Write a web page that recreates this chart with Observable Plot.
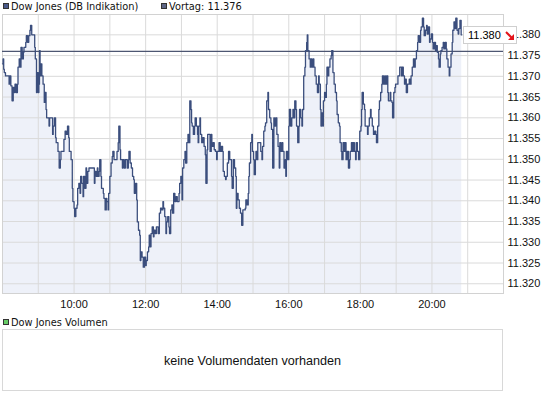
<!DOCTYPE html>
<html><head><meta charset="utf-8">
<script src="https://cdn.jsdelivr.net/npm/d3@7"></script>
<script src="https://cdn.jsdelivr.net/npm/@observablehq/plot@0.6"></script>
<style>
body{margin:0;background:#fff;}
#wrap{position:relative;width:545px;height:398px;overflow:hidden;background:#fff}
#wrap > svg{position:absolute;left:0;top:0}
#lbl{position:absolute;left:463px;width:52px;height:16px;border:1px solid #cfcfcf;background:#fff;font:11px 'Liberation Sans',Arial,sans-serif;color:#000;box-sizing:content-box}
#lbl span{position:absolute;left:4px;top:2px}
#lbl svg{position:absolute;left:41px;top:4px}
</style></head><body><div id="wrap"></div>
<script>
const times = ["8:00","8:01","8:02","8:03","8:05","8:08","8:11","8:12","8:14","8:16","8:18","8:20","8:21","8:23","8:25","8:26","8:28","8:30","8:31","8:33","8:35","8:36","8:39","8:40","8:42","8:44","8:46","8:47","8:49","8:52","8:54","8:55","8:57","8:58","9:00","9:01","9:02","9:03","9:04","9:06","9:08","9:10","9:11","9:13","9:14","9:18","9:19","9:22","9:24","9:25","9:27","9:29","9:30","9:33","9:35","9:37","9:38","9:41","9:43","9:45","9:47","9:49","9:51","9:52","9:55","9:57","9:58","10:00","10:01","10:03","10:05","10:06","10:08","10:10","10:11","10:13","10:15","10:16","10:18","10:20","10:21","10:23","10:25","10:32","10:34","10:35","10:37","10:39","10:40","10:42","10:43","10:45","10:46","10:49","10:50","10:52","10:54","10:55","10:57","10:58","11:00","11:02","11:04","11:05","11:07",
"11:10","11:12","11:14","11:15","11:17","11:18","11:21","11:22","11:24","11:26","11:29","11:31","11:32","11:34","11:36","11:38","11:40","11:41","11:43","11:45","11:46","11:48","11:50","11:51","11:52","11:54","11:56","11:58","12:00","12:01","12:03","12:05","12:06","12:07","12:09","12:11","12:13","12:14","12:16","12:18","12:20","12:21","12:23","12:25","12:27","12:29","12:30","12:32","12:34","12:35","12:37","12:39","12:40","12:42","12:44","12:45","12:47","12:49","12:51","12:53","12:56","12:57","12:59","13:01","13:02","13:04","13:06","13:07","13:09","13:11","13:12","13:14","13:16","13:17","13:18","13:20","13:22","13:23","13:25","13:27","13:28","13:29","13:31","13:32","13:34","13:36","13:38","13:40","13:41","13:43","13:44","13:46","13:48","13:50","13:51","13:53","13:55","13:57","13:59","14:00","14:03","14:05","14:07","14:09","14:10","14:12","14:14","14:15","14:17","14:19","14:21",
"14:22","14:24","14:25","14:27","14:29","14:31","14:32","14:33","14:35","14:37","14:39","14:41","14:43","14:45","14:47","14:48","14:50","14:52","14:53","14:54","14:56","14:58","14:59","15:01","15:02","15:04","15:05","15:07","15:08","15:12","15:13","15:15","15:16","15:18","15:20","15:21","15:23","15:25","15:26","15:28","15:30","15:31","15:33","15:35","15:36","15:38","15:40","15:42","15:44","15:45","15:47","15:49","15:50","15:52","15:54","15:55","15:56","15:58","16:00","16:01","16:03","16:05","16:07","16:08","16:10","16:12","16:13","16:15","16:17","16:18","16:20","16:22","16:23","16:25","16:27","16:28","16:30","16:31","16:32","16:34","16:36","16:37","16:39","16:41","16:42","16:44","16:46","16:48","16:50","16:51","16:53","16:54","16:55","16:57","16:58","17:00","17:01","17:03","17:04","17:06","17:07","17:09","17:11","17:12","17:14","17:16","17:18","17:20","17:21","17:23","17:25","17:26","17:28","17:29","17:31","17:33","17:34",
"17:36","17:38","17:40","17:42","17:43","17:45","17:47","17:48","17:50","17:52","17:53","17:55","17:57","17:59","18:01","18:02","18:03","18:05","18:07","18:08","18:10","18:12","18:13","18:15","18:17","18:18","18:20","18:22","18:24","18:26","18:27","18:29","18:31","18:32","18:34","18:36","18:37","18:39","18:41","18:42","18:44","18:46","18:47","18:50","18:51","18:53","18:54","18:56","18:58","18:59","19:01","19:03","19:05","19:06","19:09","19:10","19:12","19:14","19:15","19:17","19:19","19:22","19:24","19:25","19:27","19:29","19:31","19:32","19:34","19:36","19:37","19:39","19:41","19:42","19:44","19:46","19:47","19:49","19:51","19:52","19:54","19:56","19:57","19:59","20:01","20:02","20:04","20:06","20:07","20:09","20:11","20:12","20:14","20:15","20:17","20:19","20:20","20:22","20:24","20:25","20:27","20:29","20:30","20:32","20:34","20:35","20:37","20:39","20:40","20:42","20:44","20:45","20:47","20:49","20:50"];
const prices = [11373.0,11374.2,11371.7,11370.9,11370.1,11370.1,11368.1,11370.1,11367.7,11364.1,11367.3,11366.1,11368.1,11366.1,11368.1,11372.2,11374.2,11372.2,11377.0,11374.2,11375.8,11377.0,11378.2,11379.8,11378.2,11379.8,11381.1,11382.3,11380.0,11380.0,11377.0,11374.2,11366.1,11370.9,11366.1,11368.1,11376.2,11370.1,11373.0,11370.1,11368.1,11363.7,11366.1,11362.0,11360.0,11358.0,11360.0,11360.0,11356.0,11358.0,11360.0,11355.2,11354.0,11351.9,11347.9,11349.9,11351.9,11351.9,11354.8,11356.8,11356.0,11358.0,11355.2,11351.9,11349.9,11343.0,11339.8,11338.2,11336.2,11338.2,11339.0,11343.0,11344.2,11341.8,11345.9,11344.2,11341.0,11345.9,11343.0,11347.9,11344.2,11347.1,11347.9,11347.9,11344.2,11347.1,11345.9,11347.9,11345.9,11347.1,11349.9,11345.9,11343.0,11341.8,11340.6,11337.8,11340.6,11339.8,11337.8,11341.8,11345.9,11349.1,11350.7,11351.9,11349.9,
11349.9,11351.9,11354.0,11358.0,11352.3,11349.9,11347.9,11349.9,11347.9,11349.9,11347.9,11349.9,11351.9,11349.1,11347.9,11345.9,11345.1,11341.8,11344.2,11340.2,11334.9,11332.9,11331.7,11325.6,11327.7,11326.4,11324.0,11326.4,11324.4,11325.6,11327.7,11328.9,11331.7,11328.9,11332.1,11333.7,11331.3,11332.9,11332.1,11333.7,11333.7,11332.1,11337.0,11338.2,11337.8,11339.8,11338.2,11336.2,11332.1,11334.9,11336.2,11333.7,11332.1,11337.8,11339.0,11337.0,11341.8,11339.8,11341.0,11339.8,11341.8,11344.2,11345.9,11340.2,11347.9,11349.9,11351.9,11349.1,11354.0,11356.0,11354.0,11364.1,11362.0,11358.8,11358.0,11356.0,11358.0,11360.0,11358.0,11356.0,11354.0,11358.0,11360.0,11356.0,11354.0,11355.2,11353.1,11351.1,11344.2,11352.3,11356.0,11356.0,11351.9,11356.0,11353.1,11354.0,11352.3,11351.9,11349.9,11351.9,11354.0,11351.9,11353.1,11351.9,11347.1,11345.9,11345.1,11345.9,11349.1,11351.9,11349.9,
11349.9,11345.9,11343.0,11349.9,11347.9,11345.9,11338.2,11341.8,11340.2,11338.2,11337.0,11334.1,11337.8,11337.8,11338.2,11340.2,11339.0,11341.8,11345.9,11349.1,11354.0,11356.0,11351.9,11349.9,11346.3,11349.9,11351.9,11349.9,11354.0,11354.0,11351.9,11349.9,11353.1,11356.8,11358.0,11358.8,11364.1,11366.1,11362.0,11360.0,11358.8,11357.2,11347.9,11360.0,11358.0,11360.0,11356.0,11353.1,11347.9,11354.0,11351.9,11354.0,11351.9,11347.9,11349.9,11345.9,11351.9,11349.9,11358.0,11362.0,11358.0,11360.0,11362.0,11360.0,11364.1,11362.0,11358.0,11354.0,11358.0,11362.0,11360.0,11358.0,11362.0,11370.1,11372.2,11376.2,11378.2,11380.0,11376.2,11374.2,11372.2,11374.2,11372.2,11374.2,11372.2,11370.1,11368.1,11366.1,11370.1,11368.1,11362.0,11358.0,11361.2,11358.0,11364.1,11366.1,11364.9,11368.1,11372.2,11370.1,11372.2,11374.2,11375.0,11376.2,11370.9,11368.1,11366.1,11364.1,11360.8,11358.8,11358.0,11354.0,11351.9,11349.9,11354.0,11351.9,11354.0,
11349.9,11351.9,11347.9,11349.9,11351.9,11354.0,11351.9,11354.0,11351.9,11349.9,11354.0,11351.9,11349.9,11356.8,11358.0,11362.0,11366.1,11363.3,11362.0,11358.0,11358.0,11356.0,11358.0,11360.0,11362.0,11360.0,11358.0,11356.0,11356.8,11356.0,11354.0,11358.0,11362.0,11364.1,11366.1,11368.1,11370.1,11368.1,11370.1,11368.1,11370.1,11366.1,11364.1,11366.1,11364.1,11363.7,11360.0,11366.1,11367.3,11368.1,11368.1,11370.1,11370.1,11372.2,11370.1,11372.2,11370.1,11368.1,11369.3,11366.1,11368.1,11369.3,11368.1,11370.1,11372.2,11374.2,11372.2,11374.2,11376.2,11378.2,11379.8,11378.2,11381.1,11381.9,11384.0,11381.9,11379.8,11381.1,11382.3,11380.2,11381.9,11378.2,11379.0,11380.2,11378.2,11376.6,11378.2,11376.2,11377.4,11375.8,11374.2,11372.2,11375.4,11376.2,11377.0,11378.2,11376.6,11378.2,11376.6,11374.2,11372.2,11370.1,11372.2,11375.4,11378.2,11381.1,11383.1,11381.5,11384.0,11381.1,11380.2,11381.5,11383.5,11380.0,11380.0];
const vortag = 11376;
const yTicks = [11320,11325,11330,11335,11340,11345,11350,11355,11360,11365,11370,11375,11380];
const xTickLabels = ["10:00","12:00","14:00","16:00","18:00","20:00"];
const gridHours = ["9:00","10:00","11:00","12:00","13:00","14:00","15:00","16:00","17:00","18:00","19:00","20:00","21:00"];
const xDomain = ["8:00","22:00"];
const yDomain = [11317.65, 11384.9];
const seriesName = "Dow Jones (DB Indikation)";
const volName = "Dow Jones Volumen";
const volMsg = "keine Volumendaten vorhanden";

const parseT = s => { const [h,m] = s.split(":").map(Number); return new Date(2011,0,3,h,m); };
const data = times.map((t,i) => ({t: parseT(t), v: prices[i]}));
const de = d3.formatLocale({decimal:",", thousands:".", grouping:[3], currency:["","€"]});
const fmt = de.format(",d");

const plot = Plot.plot({
  width:545, height:310, marginTop:14, marginBottom:17, marginLeft:2, marginRight:42,
  style:{fontFamily:"'Liberation Sans', Arial, sans-serif", fontSize:"11px", color:"#111", background:"transparent"},
  x:{type:"time", domain:xDomain.map(parseT)},
  y:{domain:yDomain},
  marks:[
    Plot.areaY(data, {x:"t", y:"v", curve:"step-after", fill:"#eef1f9", clip:true}),
    Plot.gridX(gridHours.map(parseT), {stroke:"#dadada", strokeOpacity:1}),
    Plot.gridY(yTicks, {stroke:"#dadada", strokeOpacity:1}),
    Plot.frame({stroke:"#d2d2d2"}),
    Plot.ruleY([vortag], {stroke:"#4d5672", strokeWidth:1.3}),
    Plot.lineY(data, {x:"t", y:"v", curve:"step-after", stroke:"#3b4e7d", strokeWidth:1.3}),
    Plot.axisY(yTicks, {anchor:"right", tickSize:0, tickPadding:4, tickFormat:fmt, label:null}),
    Plot.axisX(xTickLabels.map(parseT), {tickSize:0, tickPadding:7, tickFormat:d3.timeFormat("%H:%M"), label:null})
  ]
});
const wrap = document.getElementById("wrap");
wrap.appendChild(plot);

// overlay: legends and volume panel
const ov = d3.select(wrap).append("svg").attr("width",545).attr("height",398)
  .style("position","absolute").style("left","0").style("top","0");
const lf = "'DejaVu Sans', Verdana, sans-serif";
function legend(x, y, color, text){
  ov.append("rect").attr("x",x+0.5).attr("y",y+0.5).attr("width",5).attr("height",5)
    .attr("fill",color).attr("stroke","#333");
  ov.append("text").attr("x",x+8).attr("y",y+6.5).attr("font-family",lf).attr("font-size","9.8px")
    .attr("fill","#111").text(text);
}
legend(3, 3, "#4a5a8a", seriesName);
legend(161, 3, "#5e6686", "Vortag: " + fmt(vortag));
legend(3, 319, "#66cc66", volName);
ov.append("rect").attr("x",2.5).attr("y",329.5).attr("width",500).attr("height",61)
  .attr("fill","none").attr("stroke","#d8d8d8");
ov.append("text").attr("x",252.5).attr("y",365).attr("text-anchor","middle")
  .attr("font-family","'Liberation Sans', Arial, sans-serif").attr("font-size","12.6px")
  .attr("fill","#111").text(volMsg);

// last value label
const last = prices[prices.length-1];
const yLast = plot.scale("y").apply(last);
const lbl = document.createElement("div");
lbl.id = "lbl";
lbl.style.top = (yLast - 8) + "px";
lbl.innerHTML = '<span>' + fmt(Math.round(last)) + '</span>' +
 '<svg width="10" height="10"><path d="M1,1 L7,7" stroke="#e3141b" stroke-width="2"/><path d="M9,3 L9,9 L3,9 Z" fill="#e3141b"/></svg>';
wrap.appendChild(lbl);
</script></body></html>
